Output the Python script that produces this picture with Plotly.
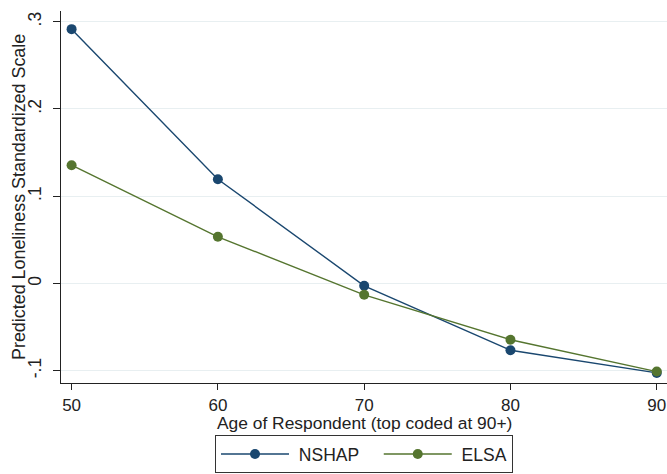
import plotly.graph_objects as go

ages = [50, 60, 70, 80, 90]
nshap = [0.2915, 0.1195, -0.0027, -0.0765, -0.1025]
elsa = [0.1355, 0.0535, -0.0130, -0.0645, -0.1010]
y_ticks = [-0.1, 0, 0.1, 0.2, 0.3]
y_tick_labels = ["-.1", "0", ".1", ".2", ".3"]
x_ticks = [50, 60, 70, 80, 90]
series_names = ["NSHAP", "ELSA"]
x_title = "Age of Respondent (top coded at 90+)"
y_title = "Predicted Loneliness Standardized Scale"

NAVY = "#1a476f"
GREEN = "#55752f"
FONT = "Liberation Sans, Arial, sans-serif"
NB = "\u00a0"

fig = go.Figure()
fig.add_trace(go.Scatter(x=ages, y=nshap, name=NB + series_names[0] + NB * 3,
                         mode="lines+markers",
                         line=dict(color=NAVY, width=1.4),
                         marker=dict(color=NAVY, size=10)))
fig.add_trace(go.Scatter(x=ages, y=elsa, name=NB + series_names[1],
                         mode="lines+markers",
                         line=dict(color=GREEN, width=1.4),
                         marker=dict(color=GREEN, size=10)))

fig.update_layout(
    width=667, height=474,
    margin=dict(l=61, r=0, t=11, b=91),
    paper_bgcolor="white", plot_bgcolor="white",
    font=dict(family=FONT, size=17.5, color="#222"),
    showlegend=True,
    legend=dict(orientation="h", x=0.5, xanchor="center", xref="paper",
                y=0.002, yanchor="bottom", yref="container",
                bordercolor="#333", borderwidth=1, font=dict(size=17.5),
                itemwidth=68, tracegroupgap=0),
    xaxis=dict(range=[49.276, 90.70], tickvals=x_ticks, ticks="outside", ticklen=6,
               tickcolor="#222", showgrid=False, zeroline=False, showline=True,
               linecolor="#222", linewidth=1.2, automargin=False,
               tickfont=dict(size=17)),
    yaxis=dict(range=[-0.1141, 0.3123], tickvals=y_ticks, ticktext=y_tick_labels,
               tickangle=-90, ticks="outside", ticklen=7, tickcolor="#222",
               showgrid=True, gridcolor="#e8eff1", gridwidth=1.2, zeroline=False,
               showline=True, linecolor="#222", linewidth=1.2, automargin=False,
               ticklabelstandoff=5, tickfont=dict(size=17.5)),
    annotations=[
        dict(text=y_title, textangle=-90,
             xref="paper", yref="paper", x=-0.0693, y=0.5,
             xanchor="center", yanchor="middle", showarrow=False,
             font=dict(size=17.9)),
        dict(text=x_title,
             xref="paper", yref="paper", x=0.5, y=-0.107,
             xanchor="center", yanchor="middle", showarrow=False,
             font=dict(size=17.4)),
    ],
)

fig.write_html("out.html", config={"displayModeBar": False},
               post_script="document.body.style.margin='0';")
